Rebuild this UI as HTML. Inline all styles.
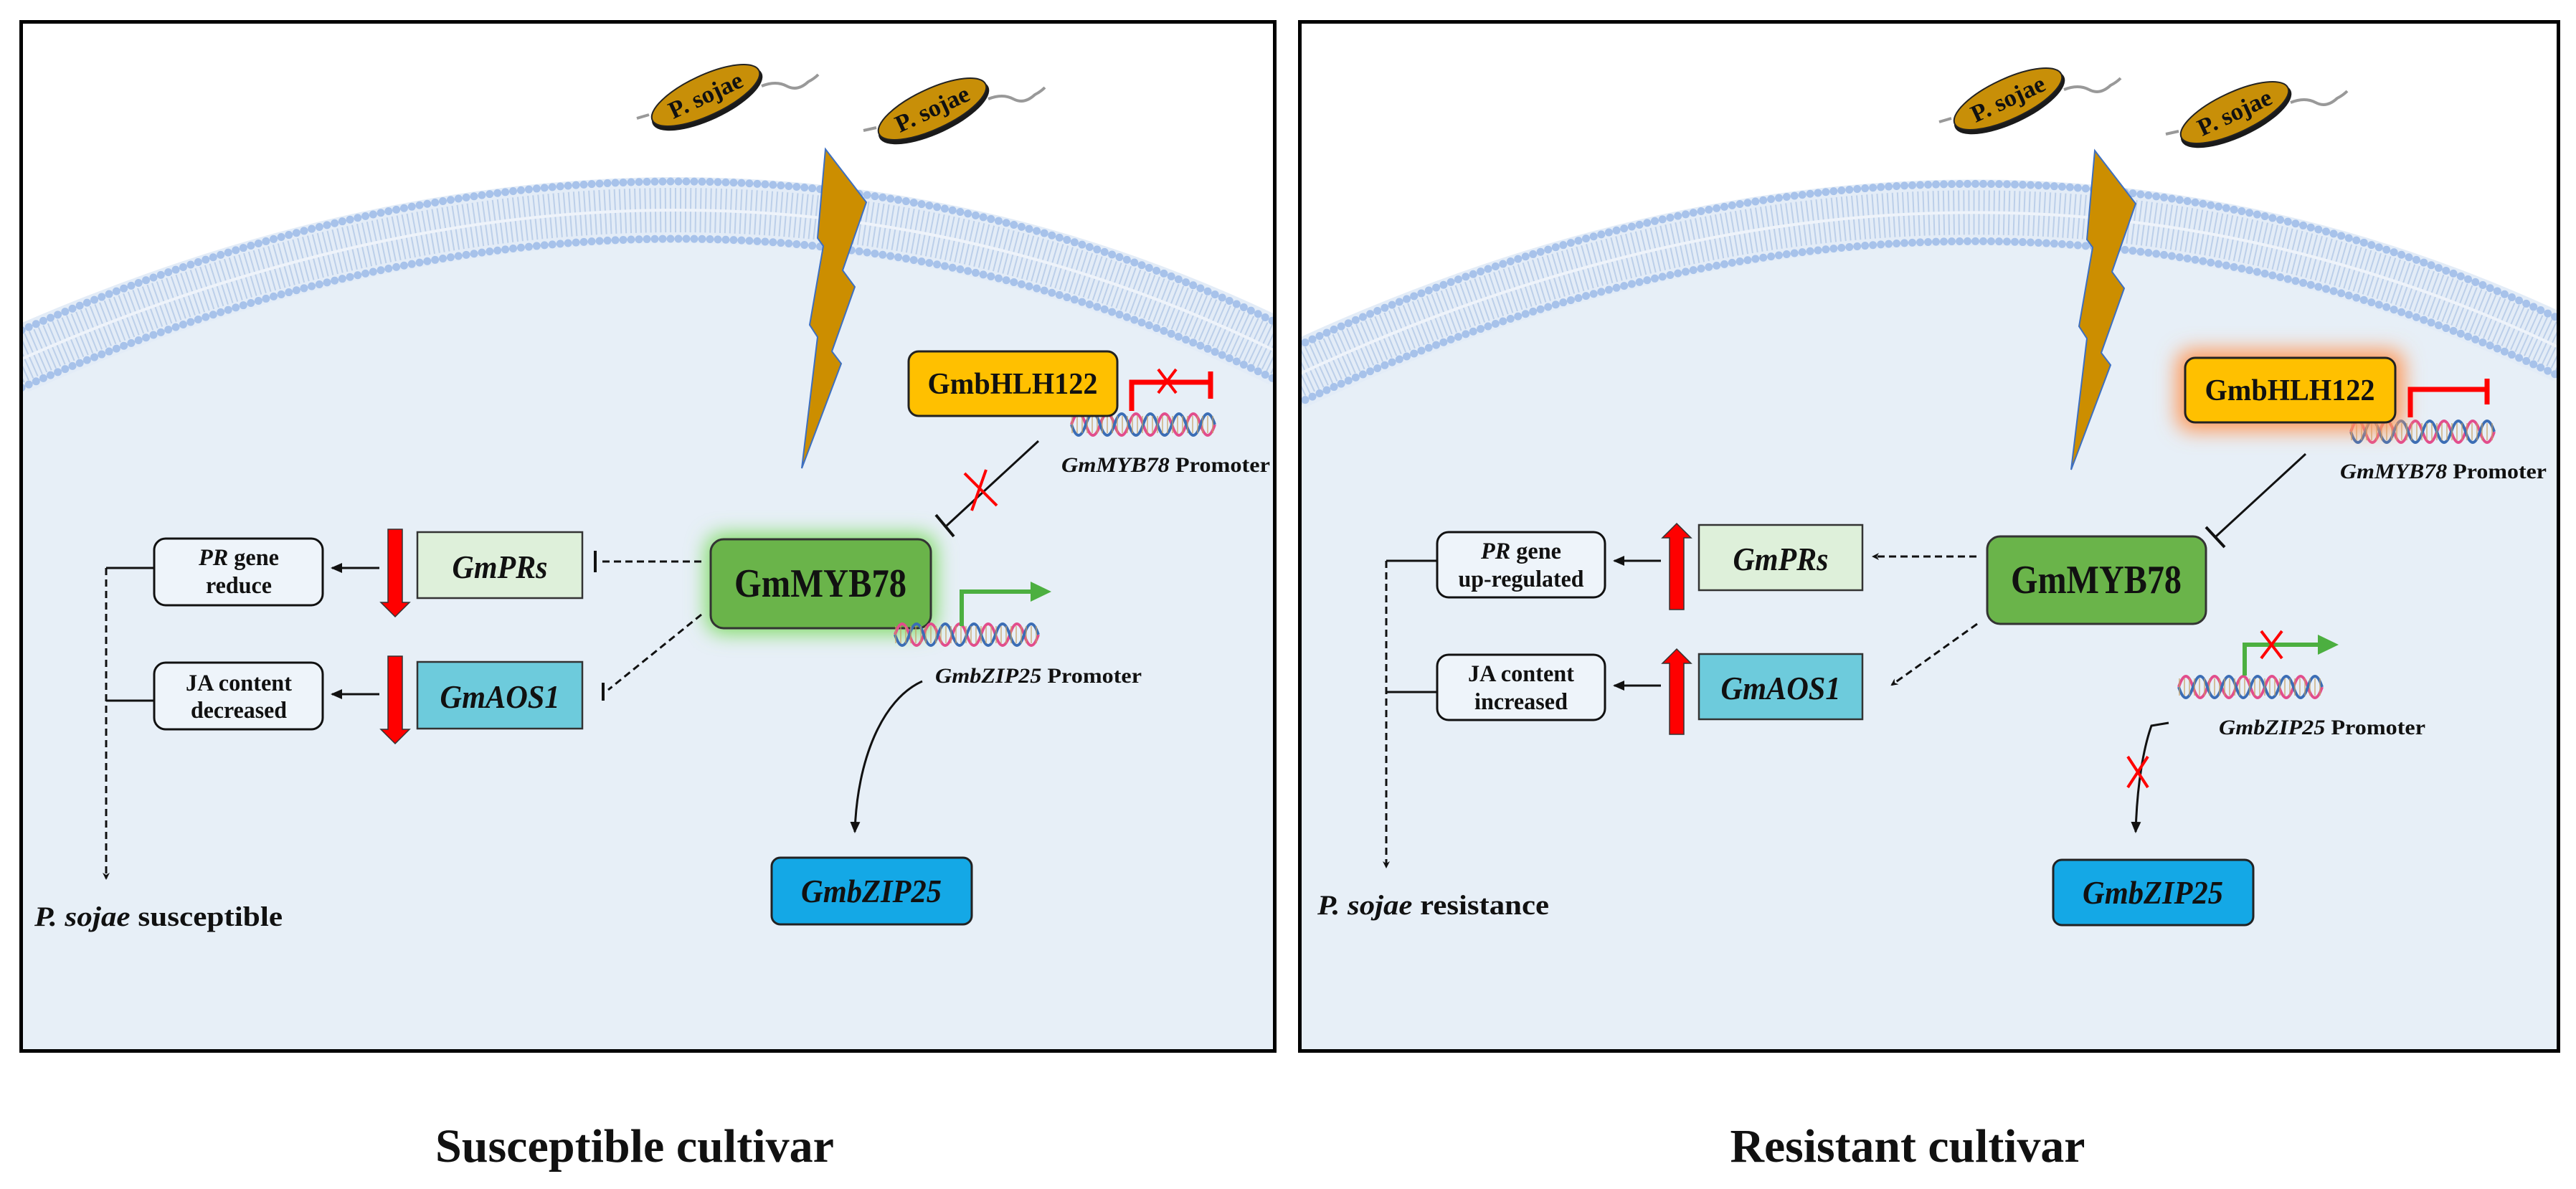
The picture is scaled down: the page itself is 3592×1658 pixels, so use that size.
<!DOCTYPE html>
<html><head><meta charset="utf-8"><style>
html,body{margin:0;padding:0;background:#fff;}
svg{display:block;}
text{font-family:"Liberation Serif",serif;font-weight:bold;fill:#111;}
.it{font-style:italic;}
</style></head><body>
<svg width="3592" height="1658" viewBox="0 0 3592 1658" xmlns="http://www.w3.org/2000/svg">
<defs>
<clipPath id="cl"><rect x="32" y="33" width="1743" height="1430"/></clipPath>
<clipPath id="cr"><rect x="1815" y="33" width="1750" height="1430"/></clipPath>
<marker id="ah" markerWidth="10" markerHeight="10" refX="8" refY="5" orient="auto" markerUnits="userSpaceOnUse"><path d="M0,0 L10,5 L0,10 L3,5 Z" fill="#111"/></marker>
<marker id="ahb" markerWidth="16" markerHeight="14" refX="14" refY="7" orient="auto" markerUnits="userSpaceOnUse"><path d="M0,0 L16,7 L0,14 Z" fill="#111"/></marker>
<filter id="gg" x="-30%" y="-40%" width="160%" height="180%"><feGaussianBlur stdDeviation="14"/></filter>
<g id="dna">
<path d="M0,20 q10,-30 20,0 t20,0 t20,0 t20,0 t20,0 t20,0 t20,0 t20,0 t20,0 t20,0" fill="none" stroke="#e24d8c" stroke-width="4"/>
<path d="M0,20 q10,30 20,0 t20,0 t20,0 t20,0 t20,0 t20,0 t20,0 t20,0 t20,0 t20,0" fill="none" stroke="#3b6db5" stroke-width="4"/>
<path d="M0,20 H200" stroke="#c8a060" stroke-width="24" stroke-dasharray="2 5" opacity="0.6"/>
</g>
<g id="cell">
<ellipse cx="0" cy="0" rx="84" ry="30" fill="#1a1a1a" transform="translate(0,5)"/>
<ellipse cx="0" cy="0" rx="82" ry="28" fill="#c88f08" stroke="#222" stroke-width="2"/>
<text x="0" y="11" text-anchor="middle" font-size="34" textLength="110" lengthAdjust="spacingAndGlyphs">P. sojae</text>
</g>
</defs>

<!-- LEFT PANEL -->
<rect x="29.5" y="30.5" width="1748" height="1435" fill="#e7eff7"/>
<g clip-path="url(#cl)">
<path d="M32,33 L32,460 Q961,41 1775,450 L1775,33 Z" fill="#fff"/>
<path d="M20,505 Q961,86 1790,495" fill="none" stroke="#e3ecf7" stroke-width="92"/>
<path d="M20,505 Q961,86 1790,495" fill="none" stroke="#bccfe9" stroke-width="62" stroke-dasharray="2 5"/>
<path d="M20,505 Q961,86 1790,495" fill="none" stroke="#eef3fa" stroke-width="4"/>
<path d="M20,465 Q961,46 1790,455" fill="none" stroke="#a7c2ea" stroke-width="11" stroke-linecap="round" stroke-dasharray="0 11"/>
<path d="M20,545 Q961,126 1790,535" fill="none" stroke="#a7c2ea" stroke-width="11" stroke-linecap="round" stroke-dasharray="0 11"/>
</g>
<rect x="29.5" y="30.5" width="1748" height="1435" fill="none" stroke="#000" stroke-width="5"/>

<path d="M888,165 L905,160 M1062,120 q20,-8 35,0 t30,-6 q8,-4 14,-10" fill="none" stroke="#999" stroke-width="4"/>
<path d="M1204,182 L1222,178 M1378,138 q20,-8 35,0 t30,-6 q8,-4 14,-10" fill="none" stroke="#999" stroke-width="4"/>
<use href="#cell" transform="translate(984,133) rotate(-25)"/>
<use href="#cell" transform="translate(1300,152) rotate(-25)"/>
<polygon points="1151,208 1208,282 1175,377 1192,400 1160,490 1173,507 1118,653 1140,470 1129,453 1148,343 1140,332" fill="#cc8e00" stroke="#3d6fc0" stroke-width="2"/>

<use href="#dna" transform="translate(1494,572)"/>
<rect x="1267" y="490" width="291" height="90" rx="14" fill="#ffc000" stroke="#222" stroke-width="3"/>
<text x="1412" y="549" text-anchor="middle" font-size="42" textLength="237" lengthAdjust="spacingAndGlyphs">GmbHLH122</text>
<path d="M1578,573 V533 H1688 M1688,518 V556" fill="none" stroke="#f00" stroke-width="7"/>
<path d="M1615,515 L1640,548 M1640,515 L1615,548" stroke="#f00" stroke-width="4"/>
<text x="1480" y="658" font-size="30" textLength="291" lengthAdjust="spacingAndGlyphs"><tspan class="it">GmMYB78</tspan> Promoter</text>

<line x1="1448" y1="615" x2="1320" y2="733" stroke="#111" stroke-width="3"/>
<line x1="1305" y1="718" x2="1330" y2="748" stroke="#111" stroke-width="4"/>
<path d="M1345,660 L1390,705 M1375,655 L1355,712" stroke="#f00" stroke-width="4"/>

<rect x="985" y="745" width="320" height="138" rx="22" fill="#7ddc60" filter="url(#gg)"/>
<rect x="991" y="752" width="307" height="124" rx="18" fill="#6ab44a" stroke="#333" stroke-width="3"/>
<text x="1144" y="832" text-anchor="middle" font-size="56" textLength="240" lengthAdjust="spacingAndGlyphs">GmMYB78</text>
<use href="#dna" transform="translate(1248,865)"/>
<path d="M1341,873 V825 H1440" fill="none" stroke="#4caf40" stroke-width="6"/>
<polygon points="1437,811 1466,825 1437,839" fill="#4caf40"/>
<text x="1304" y="952" font-size="30" textLength="288" lengthAdjust="spacingAndGlyphs"><tspan class="it">GmbZIP25</tspan> Promoter</text>
<path d="M1286,950 C1230,975 1195,1060 1192,1160" fill="none" stroke="#111" stroke-width="3" marker-end="url(#ahb)"/>
<rect x="1076" y="1196" width="279" height="93" rx="12" fill="#14a8e6" stroke="#222" stroke-width="3"/>
<text class="it" x="1215" y="1258" text-anchor="middle" font-size="46" textLength="196" lengthAdjust="spacingAndGlyphs">GmbZIP25</text>

<line x1="978" y1="783" x2="836" y2="783" stroke="#111" stroke-width="3" stroke-dasharray="10 6"/>
<line x1="830" y1="768" x2="830" y2="798" stroke="#111" stroke-width="4"/>
<line x1="978" y1="857" x2="848" y2="962" stroke="#111" stroke-width="3" stroke-dasharray="10 6"/>
<line x1="841" y1="952" x2="841" y2="977" stroke="#111" stroke-width="4"/>

<rect x="582" y="742" width="230" height="92" fill="#def0da" stroke="#333" stroke-width="2.5"/>
<text class="it" x="697" y="806" text-anchor="middle" font-size="46" textLength="133" lengthAdjust="spacingAndGlyphs">GmPRs</text>
<rect x="582" y="923" width="230" height="93" fill="#6dcbdc" stroke="#333" stroke-width="2.5"/>
<text class="it" x="697" y="987" text-anchor="middle" font-size="46" textLength="167" lengthAdjust="spacingAndGlyphs">GmAOS1</text>

<polygon points="541,738 561,738 561,840 571,840 551,860 531,840 541,840" fill="#f00" stroke="#333" stroke-width="1.5"/>
<polygon points="541,915 561,915 561,1017 571,1017 551,1037 531,1017 541,1017" fill="#f00" stroke="#333" stroke-width="1.5"/>
<line x1="529" y1="792" x2="463" y2="792" stroke="#111" stroke-width="3" marker-end="url(#ahb)"/>
<line x1="529" y1="968" x2="463" y2="968" stroke="#111" stroke-width="3" marker-end="url(#ahb)"/>

<rect x="215" y="751" width="235" height="93" rx="16" fill="#eef4fa" stroke="#111" stroke-width="3"/>
<text x="333" y="788" text-anchor="middle" font-size="33" textLength="112" lengthAdjust="spacingAndGlyphs"><tspan class="it">PR</tspan> gene</text>
<text x="333" y="827" text-anchor="middle" font-size="33" textLength="92" lengthAdjust="spacingAndGlyphs">reduce</text>
<rect x="215" y="924" width="235" height="93" rx="16" fill="#eef4fa" stroke="#111" stroke-width="3"/>
<text x="333" y="963" text-anchor="middle" font-size="33" textLength="148" lengthAdjust="spacingAndGlyphs">JA content</text>
<text x="333" y="1001" text-anchor="middle" font-size="33" textLength="134" lengthAdjust="spacingAndGlyphs">decreased</text>
<path d="M215,792 H148 M215,977 H148" stroke="#111" stroke-width="3"/>
<line x1="148" y1="792" x2="148" y2="1225" stroke="#111" stroke-width="3" stroke-dasharray="10 6" marker-end="url(#ah)"/>
<text x="48" y="1291" font-size="39" textLength="346" lengthAdjust="spacingAndGlyphs"><tspan class="it">P. sojae</tspan> susceptible</text>

<text x="885" y="1620" text-anchor="middle" font-size="66" textLength="556" lengthAdjust="spacingAndGlyphs">Susceptible cultivar</text>

<!-- RIGHT PANEL -->
<rect x="1812.5" y="30.5" width="1755" height="1435" fill="#e7eff7"/>
<g clip-path="url(#cr)">
<path d="M1815,33 L1815,482 Q2739,40 3565,445 L3565,33 Z" fill="#fff"/>
<path d="M1800,527 Q2739,85 3580,490" fill="none" stroke="#e3ecf7" stroke-width="92"/>
<path d="M1800,527 Q2739,85 3580,490" fill="none" stroke="#bccfe9" stroke-width="62" stroke-dasharray="2 5"/>
<path d="M1800,527 Q2739,85 3580,490" fill="none" stroke="#eef3fa" stroke-width="4"/>
<path d="M1800,487 Q2739,45 3580,450" fill="none" stroke="#a7c2ea" stroke-width="11" stroke-linecap="round" stroke-dasharray="0 11"/>
<path d="M1800,567 Q2739,125 3580,530" fill="none" stroke="#a7c2ea" stroke-width="11" stroke-linecap="round" stroke-dasharray="0 11"/>
</g>
<rect x="1812.5" y="30.5" width="1755" height="1435" fill="none" stroke="#000" stroke-width="5"/>

<path d="M2704,170 L2721,165 M2878,125 q20,-8 35,0 t30,-6 q8,-4 14,-10" fill="none" stroke="#999" stroke-width="4"/>
<path d="M3020,187 L3038,183 M3194,143 q20,-8 35,0 t30,-6 q8,-4 14,-10" fill="none" stroke="#999" stroke-width="4"/>
<use href="#cell" transform="translate(2800,138) rotate(-25)"/>
<use href="#cell" transform="translate(3116,157) rotate(-25)"/>
<polygon points="2921,210 2978,284 2945,379 2962,402 2930,492 2943,509 2888,655 2910,472 2899,455 2918,345 2910,334" fill="#cc8e00" stroke="#3d6fc0" stroke-width="2"/>

<use href="#dna" transform="translate(3278,582)"/>
<rect x="3035" y="488" width="317" height="113" rx="20" fill="#ff9a5a" filter="url(#gg)"/>
<rect x="3047" y="499" width="293" height="90" rx="14" fill="#ffc000" stroke="#222" stroke-width="3"/>
<text x="3193" y="558" text-anchor="middle" font-size="42" textLength="237" lengthAdjust="spacingAndGlyphs">GmbHLH122</text>
<path d="M3361,582 V543 H3468 M3468,528 V564" fill="none" stroke="#f00" stroke-width="7"/>
<text x="3263" y="667" font-size="30" textLength="288" lengthAdjust="spacingAndGlyphs"><tspan class="it">GmMYB78</tspan> Promoter</text>
<line x1="3215" y1="633" x2="3090" y2="748" stroke="#111" stroke-width="3"/>
<line x1="3076" y1="735" x2="3102" y2="763" stroke="#111" stroke-width="4"/>

<rect x="2771" y="748" width="305" height="122" rx="18" fill="#6ab44a" stroke="#333" stroke-width="3"/>
<text x="2923" y="827" text-anchor="middle" font-size="56" textLength="238" lengthAdjust="spacingAndGlyphs">GmMYB78</text>

<line x1="2756" y1="776" x2="2612" y2="776" stroke="#111" stroke-width="3" stroke-dasharray="10 6" marker-end="url(#ah)"/>
<line x1="2757" y1="870" x2="2638" y2="955" stroke="#111" stroke-width="3" stroke-dasharray="10 6" marker-end="url(#ah)"/>

<use href="#dna" transform="translate(3038,938)"/>
<path d="M3130,942 V899 H3235" fill="none" stroke="#4caf40" stroke-width="6"/>
<polygon points="3232,885 3261,899 3232,913" fill="#4caf40"/>
<path d="M3153,880 L3182,918 M3182,880 L3153,918" stroke="#f00" stroke-width="4"/>
<text x="3094" y="1024" font-size="30" textLength="288" lengthAdjust="spacingAndGlyphs"><tspan class="it">GmbZIP25</tspan> Promoter</text>
<path d="M3024,1008 L3000,1012 C2990,1040 2980,1090 2978,1160" fill="none" stroke="#111" stroke-width="3" marker-end="url(#ahb)"/>
<path d="M2967,1055 L2995,1098 M2995,1055 L2967,1098" stroke="#f00" stroke-width="4"/>
<rect x="2863" y="1199" width="279" height="91" rx="12" fill="#14a8e6" stroke="#222" stroke-width="3"/>
<text class="it" x="3002" y="1260" text-anchor="middle" font-size="46" textLength="196" lengthAdjust="spacingAndGlyphs">GmbZIP25</text>

<rect x="2369" y="732" width="228" height="91" fill="#def0da" stroke="#333" stroke-width="2.5"/>
<text class="it" x="2483" y="795" text-anchor="middle" font-size="46" textLength="133" lengthAdjust="spacingAndGlyphs">GmPRs</text>
<rect x="2369" y="912" width="228" height="91" fill="#6dcbdc" stroke="#333" stroke-width="2.5"/>
<text class="it" x="2483" y="975" text-anchor="middle" font-size="46" textLength="167" lengthAdjust="spacingAndGlyphs">GmAOS1</text>

<polygon points="2338,730 2358,750 2348,750 2348,850 2328,850 2328,750 2318,750" fill="#f00" stroke="#333" stroke-width="1.5"/>
<polygon points="2338,905 2358,925 2348,925 2348,1024 2328,1024 2328,925 2318,925" fill="#f00" stroke="#333" stroke-width="1.5"/>
<line x1="2316" y1="782" x2="2251" y2="782" stroke="#111" stroke-width="3" marker-end="url(#ahb)"/>
<line x1="2316" y1="956" x2="2251" y2="956" stroke="#111" stroke-width="3" marker-end="url(#ahb)"/>

<rect x="2004" y="742" width="234" height="91" rx="16" fill="#eef4fa" stroke="#111" stroke-width="3"/>
<text x="2121" y="779" text-anchor="middle" font-size="33" textLength="112" lengthAdjust="spacingAndGlyphs"><tspan class="it">PR</tspan> gene</text>
<text x="2121" y="818" text-anchor="middle" font-size="33" textLength="175" lengthAdjust="spacingAndGlyphs">up-regulated</text>
<rect x="2004" y="913" width="234" height="91" rx="16" fill="#eef4fa" stroke="#111" stroke-width="3"/>
<text x="2121" y="950" text-anchor="middle" font-size="33" textLength="148" lengthAdjust="spacingAndGlyphs">JA content</text>
<text x="2121" y="989" text-anchor="middle" font-size="33" textLength="130" lengthAdjust="spacingAndGlyphs">increased</text>
<path d="M2004,782 H1933 M2004,965 H1933" stroke="#111" stroke-width="3"/>
<line x1="1933" y1="782" x2="1933" y2="1209" stroke="#111" stroke-width="3" stroke-dasharray="10 6" marker-end="url(#ah)"/>
<text x="1837" y="1275" font-size="39" textLength="323" lengthAdjust="spacingAndGlyphs"><tspan class="it">P. sojae</tspan> resistance</text>

<text x="2660" y="1620" text-anchor="middle" font-size="66" textLength="495" lengthAdjust="spacingAndGlyphs">Resistant cultivar</text>
</svg>
</body></html>
